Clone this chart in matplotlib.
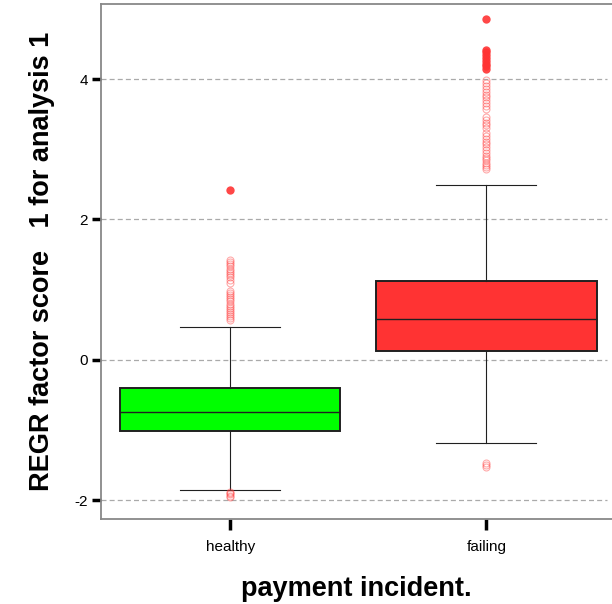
import matplotlib
matplotlib.use('Agg')
import matplotlib.pyplot as plt

plt.rcParams['font.family'] = ['Liberation Sans', 'DejaVu Sans']
plt.rcParams['axes.unicode_minus'] = False

groups = ['healthy', 'failing']
box_colors = ['#00ff00', '#ff3333']

# five-number summaries per group
q1 = [-1.016, 0.128]
median = [-0.741, 0.580]
q3 = [-0.403, 1.126]
whisker_low = [-1.857, -1.187]
whisker_high = [0.466, 2.490]

# mild outliers (open circles)
healthy_out = [1.42, 1.39, 1.36, 1.33, 1.30, 1.27, 1.24, 1.21, 1.18, 1.14, 1.10,
               0.98, 0.95, 0.92, 0.89, 0.86, 0.83, 0.80, 0.77, 0.74, 0.71,
               0.68, 0.65, 0.62, 0.59, 0.56,
               -1.88, -1.90, -1.92, -1.94, -1.96]
failing_out = [3.98, 3.94, 3.90, 3.86, 3.82, 3.78, 3.74, 3.70, 3.66, 3.62, 3.58,
               3.46, 3.42, 3.38, 3.34, 3.30,
               3.23, 3.19, 3.15, 3.11, 3.07, 3.03, 2.99, 2.95, 2.91, 2.87,
               2.84, 2.81, 2.78, 2.75, 2.72,
               -1.47, -1.50, -1.53]
# extreme values (filled)
healthy_ext = [2.42]
failing_ext = [4.85, 4.42, 4.38, 4.34, 4.30, 4.26, 4.22, 4.18, 4.14]

yticks = [-2, 0, 2, 4]

stats = []
for i, name in enumerate(groups):
    stats.append({'label': name, 'q1': q1[i], 'med': median[i], 'q3': q3[i],
                  'whislo': whisker_low[i], 'whishi': whisker_high[i],
                  'fliers': [healthy_out, failing_out][i]})

fig = plt.figure(figsize=(6.12, 6.04), dpi=100)
ax = fig.add_axes([0.165, 0.1407, 0.835, 0.8527])

for v in yticks:
    ax.axhline(v, color='#aaaaaa', lw=0.9, ls=(0, (4, 2.5)), xmax=0.99, zorder=0)

bp = ax.bxp(stats, positions=[1, 2], widths=0.86, patch_artist=True,
            showfliers=True,
            boxprops=dict(edgecolor='#202020', lw=1.4),
            medianprops=dict(color='#202020', lw=1.0),
            whiskerprops=dict(color='#202020', lw=0.8),
            capprops=dict(color='#202020', lw=0.8),
            capwidths=0.39,
            flierprops=dict(marker='o', markersize=5, markerfacecolor='none',
                            markeredgecolor='#ff4444', markeredgewidth=0.8,
                            alpha=0.45))
for patch, c in zip(bp['boxes'], box_colors):
    patch.set_facecolor(c)

for pos, ext in zip([1, 2], [healthy_ext, failing_ext]):
    ax.plot([pos] * len(ext), ext, 'o', color='#ff3333', markersize=6,
            markeredgewidth=0, alpha=0.9)

ax.set_xlim(0.496, 2.49)
ax.set_ylim(-2.27, 5.07)
ax.set_yticks(yticks)
ax.set_xticks([1, 2])
ax.set_xticklabels(groups)

for s in ['left', 'top', 'bottom']:
    ax.spines[s].set_color('#888888')
    ax.spines[s].set_linewidth(1.3)
ax.spines['right'].set_visible(False)

ax.tick_params(axis='y', length=6.5, width=2.5, color='black', pad=3, labelsize=11)
ax.tick_params(axis='x', length=8, width=2.5, color='black', pad=7, labelsize=11)

ax.set_ylabel('REGR factor score   1 for analysis 1', fontsize=19.5,
              fontweight='bold', labelpad=14)
ax.set_xlabel('payment incident.', fontsize=19.5, fontweight='bold', labelpad=16)

fig.savefig('out.png', dpi=100)
